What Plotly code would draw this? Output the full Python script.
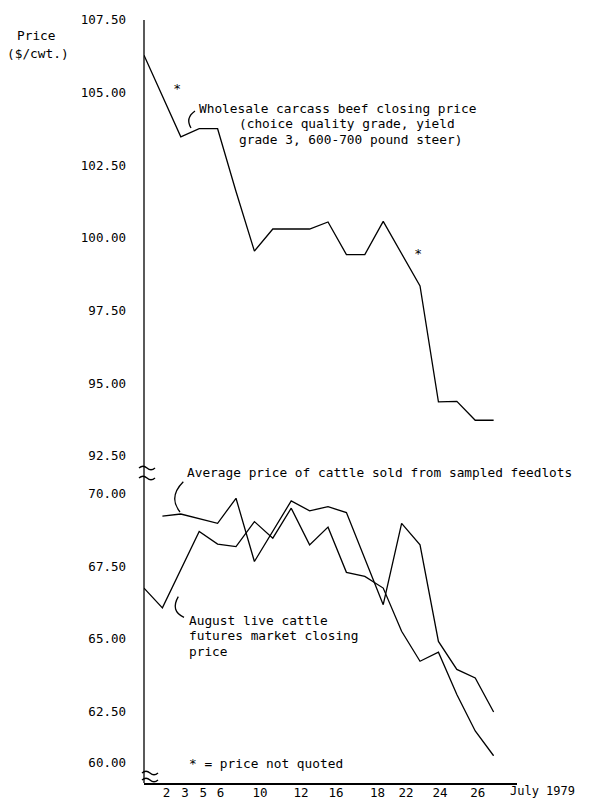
import plotly.graph_objects as go

# Trading-day index on the x axis: 0 = Jun 29, 1 = Jul 2, 2 = Jul 3, 3 = Jul 5, 4 = Jul 6,
# 5 = Jul 9, 6 = Jul 10, 7 = Jul 11, 8 = Jul 12, 9 = Jul 13, 10 = Jul 16, ... 19 = Jul 27
wholesale_day = [0, 2, 3, 4, 5, 6, 7, 8, 9, 10, 11, 12, 13, 15, 16, 17, 18, 19]
wholesale_price = [106.29, 103.48, 103.76, 103.76, 101.60, 99.55, 100.31, 100.31, 100.31,
                   100.55, 99.43, 99.43, 100.57, 98.35, 94.36, 94.38, 93.73, 93.73]

feedlot_day = [1, 2, 4, 5, 6, 8, 9, 10, 11, 13, 14, 15, 16, 17, 18, 19]
feedlot_price = [69.22, 69.29, 68.97, 69.83, 67.66, 69.74, 69.40, 69.54, 69.34,
                 66.18, 68.97, 68.23, 64.92, 63.96, 63.67, 62.50]

futures_day = [0, 1, 3, 4, 5, 6, 7, 8, 9, 10, 11, 12, 13, 14, 15, 16, 17, 18, 19]
futures_price = [66.75, 66.07, 68.69, 68.26, 68.17, 69.03, 68.46, 69.49, 68.23, 68.84,
                 67.29, 67.15, 66.75, 65.27, 64.24, 64.55, 63.10, 61.85, 61.00]

# "price not quoted" markers (trading-day index, price level)
not_quoted_day = [1.8, 14.9]
not_quoted_price = [105.1, 99.41]

x_tick_pos = [1.23, 2.23, 3.22, 4.16, 6.30, 8.53, 10.43, 12.69, 14.24, 16.09, 18.14]
x_tick_text = ["2", "3", "5", "6", "10", "12", "16", "18", "22", "24", "26"]

upper_ticks = [92.5, 95.0, 97.5, 100.0, 102.5, 105.0, 107.5]
lower_ticks = [62.5, 65.0, 67.5, 70.0]
bottom_ticks = [60.0]

FONT = "DejaVu Sans Mono"
OFF = 8  # page body margin of the browser
W, H = 590 - OFF, 801 - OFF
L, T = 144 - OFF, 20 - OFF
PW, PH = 373, 763
R = W - L - PW
B = H - T - PH


def px(x):  # page x pixel -> paper
    return (x - 144) / PW


def py(y):  # page y pixel -> paper
    return (783 - y) / PH


fig = go.Figure()
line_style = dict(color="black", width=1.3)
fig.add_trace(go.Scatter(x=wholesale_day, y=wholesale_price, mode="lines", line=line_style,
                         xaxis="x", yaxis="y", showlegend=False, hoverinfo="skip"))
fig.add_trace(go.Scatter(x=feedlot_day, y=feedlot_price, mode="lines", line=line_style,
                         xaxis="x", yaxis="y2", showlegend=False, hoverinfo="skip"))
fig.add_trace(go.Scatter(x=futures_day, y=futures_price, mode="lines", line=line_style,
                         xaxis="x", yaxis="y2", showlegend=False, hoverinfo="skip"))
fig.add_trace(go.Scatter(x=[None], y=[None], mode="lines", xaxis="x", yaxis="y3",
                         showlegend=False, hoverinfo="skip"))
fig.add_trace(go.Scatter(x=not_quoted_day, y=not_quoted_price, mode="text", text=["*", "*"],
                         textfont=dict(family=FONT, size=13, color="black"),
                         xaxis="x", yaxis="y", showlegend=False, hoverinfo="skip"))

tickfont = dict(family=FONT, size=12.5, color="black")
common_y = dict(showgrid=False, zeroline=False, showline=False, ticks="", anchor="x",
                tickfont=tickfont, tickformat=".2f", ticklabelstandoff=17, automargin=False)

fig.update_layout(
    width=W, height=H,
    margin=dict(l=L, r=R, t=T, b=B),
    paper_bgcolor="white", plot_bgcolor="white",
    font=dict(family=FONT, size=12.8, color="black"),
    xaxis=dict(domain=[0, 1], range=[0, 20.27], anchor="y2", showgrid=False, zeroline=False,
               showline=True, linewidth=2.2, linecolor="black", ticks="",
               tickvals=x_tick_pos, ticktext=x_tick_text, tickfont=tickfont,
               ticklabelstandoff=-3, automargin=False),
    yaxis=dict(domain=[py(456), 1.0], range=[92.5, 107.5], tickvals=upper_ticks, **common_y),
    yaxis2=dict(domain=[0, py(493.3)], range=[70 - (783 - 493.3) / 29.16, 70],
                tickvals=lower_ticks, **common_y),
    yaxis3=dict(domain=[py(770), py(756)], range=[59.76, 60.24], tickvals=bottom_ticks, **common_y),
)

shapes = []
# vertical axis line
shapes.append(dict(type="line", xref="paper", yref="paper", x0=0, x1=0, y0=0, y1=1,
                   line=dict(color="black", width=1.3)))


def tilde(cx, cy, w=16, a=3.5):
    x0 = cx - w / 2
    pts = [(x0, cy), (x0 + w / 4, cy - a), (x0 + w / 2, cy), (x0 + 3 * w / 4, cy + a), (x0 + w, cy)]
    return ("M {:.5f},{:.5f} Q {:.5f},{:.5f} {:.5f},{:.5f} Q {:.5f},{:.5f} {:.5f},{:.5f}".format(
        px(pts[0][0]), py(pts[0][1]), px(pts[1][0]), py(pts[1][1]), px(pts[2][0]), py(pts[2][1]),
        px(pts[3][0]), py(pts[3][1]), px(pts[4][0]), py(pts[4][1])))


for (cx, cy) in [(147, 468), (147, 478), (150, 773), (150, 780)]:
    shapes.append(dict(type="path", xref="paper", yref="paper", path=tilde(cx, cy),
                       line=dict(color="black", width=1.4)))


def curve(p0, c, p1):
    return "M {:.5f},{:.5f} Q {:.5f},{:.5f} {:.5f},{:.5f}".format(
        px(p0[0]), py(p0[1]), px(c[0]), py(c[1]), px(p1[0]), py(p1[1]))


for (p0, c, p1) in [((195, 111), (185, 118), (191, 128)),
                    ((183.3, 481.7), (168, 497), (180, 512)),
                    ((178.3, 596.7), (170, 611), (184, 617.3))]:
    shapes.append(dict(type="path", xref="paper", yref="paper", path=curve(p0, c, p1),
                       line=dict(color="black", width=1.3)))

fig.update_layout(shapes=shapes)

annots = []


def note(text, x, y, xanchor="left", size=12.8):
    annots.append(dict(text=text, x=px(x), y=py(y), xref="paper", yref="paper",
                       xanchor=xanchor, yanchor="middle", showarrow=False,
                       font=dict(family=FONT, size=size, color="black")))


note("Wholesale carcass beef closing price", 196.7, 108.3)
note("(choice quality grade, yield", 236.7, 123.5)
note("grade 3, 600-700 pound steer)", 236.7, 139.5)
note("Average price of cattle sold from sampled feedlots", 185, 472.3)
note("August live cattle", 186.7, 620)
note("futures market closing", 186.7, 635.5)
note("price", 186.7, 651)
note("* = price not quoted", 187, 763)
note("Price", 36.7, 35, xanchor="center")
note("($/cwt.)", 38, 53.3, xanchor="center")
note("July 1979", 577, 791, xanchor="right", size=12)

fig.update_layout(annotations=annots)

fig.write_html("out.html")
